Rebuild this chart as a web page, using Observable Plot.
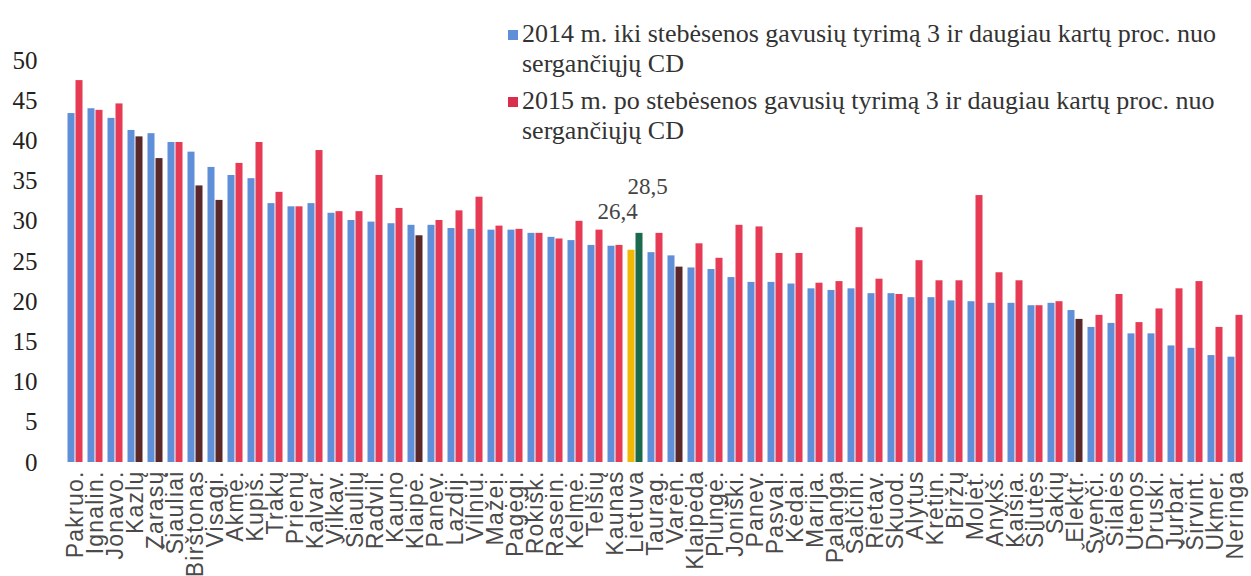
<!DOCTYPE html>
<html>
<head>
<meta charset="utf-8">
<script src="https://cdn.jsdelivr.net/npm/d3@7"></script>
<script src="https://cdn.jsdelivr.net/npm/@observablehq/plot@0.6"></script>
<style>
  html, body { margin: 0; padding: 0; background: #fff; }
  #wrap { position: relative; width: 1251px; height: 576px; overflow: hidden; }
  #legend { position: absolute; left: 508px; top: 19px; font-family: "Liberation Serif", serif; font-size: 26px; color: #333; line-height: 30px; }
  .entry { position: relative; padding-left: 14px; margin-bottom: 7px; white-space: nowrap; }
  .sw { position: absolute; left: 0; top: 11px; width: 10px; height: 10px; }
  g[aria-label="fx-axis tick label"] text { letter-spacing: 1.2px; }
</style>
</head>
<body>
<div id="wrap">
  <div id="chart"></div>
  <div id="legend"></div>
</div>
<script>
const categories = ["Pakruo.", "Ignalin.", "Jonavo.", "Kazlų", "Zarasų", "Šiauliai", "Birštonas", "Visagi.", "Akmė.", "Kupiš.",
  "Trakų", "Prienų", "Kalvar.", "Vilkav.", "Šiaulių", "Radvil.", "Kauno", "Klaipė.", "Panev.", "Lazdij.",
  "Vilniu.", "Mažei.", "Pagėgi.", "Rokišk.", "Rasein.", "Kelmė.", "Telšių", "Kaunas", "Lietuva", "Taurag.",
  "Varėn.", "Klaipėda", "Plungė.", "Joniški.", "Panev.", "Pasval.", "Kėdai.", "Marija.", "Palanga", "Šalčini.",
  "Rietav.", "Skuod.", "Alytus", "Kretin.", "Biržų", "Molėt.", "Anykš.", "Kaišia.", "Šilutės", "Šakių",
  "Elektr.", "Švenči.", "Šilalės", "Utenos", "Druski.", "Jurbar.", "Širvint.", "Ukmer.", "Neringa"];

const values2014 = [43.4, 44.0, 42.8, 41.3, 40.9, 39.8, 38.6, 36.7, 35.7, 35.3,
  32.2, 31.8, 32.2, 31.0, 30.1, 29.9, 29.7, 29.5, 29.5, 29.1,
  29.0, 28.9, 28.9, 28.5, 28.0, 27.6, 27.0, 26.9, 26.4, 26.1,
  25.7, 24.2, 24.0, 23.0, 22.4, 22.4, 22.2, 21.6, 21.4, 21.6,
  21.0, 21.0, 20.5, 20.5, 20.1, 20.0, 19.8, 19.8, 19.5, 19.8,
  18.9, 16.8, 17.3, 16.0, 16.0, 14.5, 14.2, 13.3, 13.1];

const values2015 = [47.5, 43.8, 44.6, 40.5, 37.8, 39.8, 34.4, 32.6, 37.2, 39.8,
  33.6, 31.8, 38.8, 31.2, 31.2, 35.7, 31.6, 28.2, 30.1, 31.3,
  33.0, 29.4, 29.0, 28.5, 27.8, 30.0, 28.9, 27.0, 28.5, 28.5,
  24.3, 27.2, 25.4, 29.5, 29.3, 26.0, 26.0, 22.3, 22.5, 29.2,
  22.8, 20.9, 25.1, 22.6, 22.6, 33.2, 23.6, 22.6, 19.5, 20.0,
  17.8, 18.3, 20.9, 17.4, 19.1, 21.6, 22.5, 16.8, 18.3];

const seriesNames = [
  ["2014 m. iki stebėsenos gavusių tyrimą 3 ir daugiau kartų proc. nuo", "sergančiųjų CD"],
  ["2015 m. po stebėsenos gavusių tyrimą 3 ir daugiau kartų proc. nuo", "sergančiųjų CD"]
];

const highlighted = ["Kazlų", "Zarasų", "Birštonas", "Visagi.", "Klaipė.", "Varėn.", "Elektr."];
const national = "Lietuva";

const rows = [];
categories.forEach((c, i) => {
  rows.push({i, s: 0, v: values2014[i]});
  rows.push({i, s: 1, v: values2015[i]});
});

const BLUE = "#5f8fd8", RED = "#e63a55", DARK = "#5a2828", YEL = "#f0b705", GRN = "#1c6a4e";
function fillOf(d) {
  const c = categories[d.i];
  if (c === national) return d.s ? GRN : YEL;
  if (d.s === 1) return highlighted.includes(c) ? DARK : RED;
  return BLUE;
}

const fmt = v => d3.format(".1f")(v).replace(".", ",");
const natRows = rows.filter(d => categories[d.i] === national);

const chart = Plot.plot({
  width: 1251,
  height: 576,
  marginLeft: 63,
  marginRight: 4,
  marginTop: 60,
  marginBottom: 114,
  fx: {domain: d3.range(categories.length), paddingInner: 0.2, paddingOuter: 0.1},
  x: {domain: [0, 1], padding: 0, axis: null},
  y: {domain: [0, 50], axis: null},
  marks: [
    Plot.barY(rows, {fx: "i", x: "s", y: "v", fill: fillOf, insetLeft: 0.5, insetRight: 0.5}),
    Plot.text(natRows, {
      fx: "i", x: "s", y: "v", text: d => fmt(d.v),
      fontFamily: "Liberation Serif", fontSize: 23, fill: "#444"
    }),
    Plot.axisY({
      ticks: d3.range(0, 51, 5), tickSize: 0, tickPadding: 30,
      fontFamily: "Liberation Serif", fontSize: 25, fill: "#222", label: null
    }),
    Plot.axisFx({
      anchor: "bottom", tickRotate: -90, tickSize: 0, tickPadding: 8,
      tickFormat: i => categories[i], label: null,
      fontFamily: "Liberation Sans", fontSize: 23, fill: "#4a4a4a"
    })
  ]
});
document.getElementById("chart").append(chart);

// position Lietuva value labels
const s1Text = fmt(values2015[categories.indexOf(national)]);
chart.querySelectorAll('g[aria-label="text"] text').forEach(t => {
  const isS1 = t.textContent === s1Text;
  t.setAttribute("dy", isS1 ? "-47" : "-39");
  t.setAttribute("dx", isS1 ? "8" : "-14");
});

const legend = document.getElementById("legend");
[BLUE, "#d82f4c"].forEach((col, k) => {
  const e = document.createElement("div");
  e.className = "entry";
  e.innerHTML = `<span class="sw" style="background:${col}"></span>${seriesNames[k][0]}<br>${seriesNames[k][1]}`;
  legend.append(e);
});
</script>
</body>
</html>
